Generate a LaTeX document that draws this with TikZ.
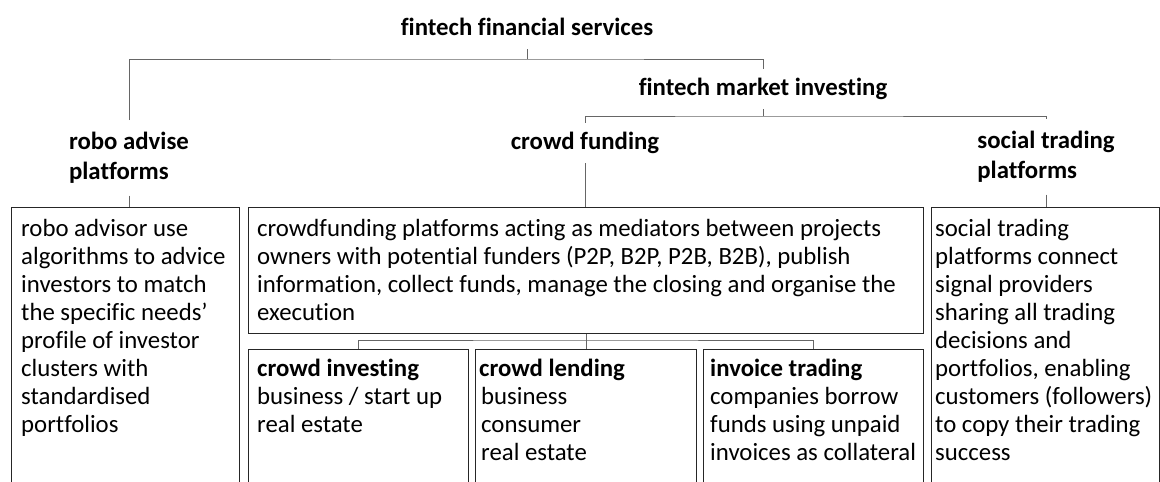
\documentclass[tikz,border=0pt]{standalone}
\usepackage{fontspec}
\setmainfont{Carlito}[Ligatures=NoCommon]
\begin{document}
\begin{tikzpicture}[x=1pt,y=-1pt,
  ttl/.style={font=\bfseries\fontsize{24.8}{29}\selectfont, inner xsep=0pt, inner ysep=9pt, text height=17pt, text depth=5pt, anchor=base},
  ttltwo/.style={font=\bfseries\fontsize{24.8}{30}\selectfont, align=left, inner xsep=0pt, inner ysep=12pt, anchor=north},
  bodytext/.style={font=\fontsize{24.8}{28}\selectfont, align=left, anchor=base west, inner sep=0pt},
  boxnode/.style={draw=black!85, line width=1.2pt, anchor=north west, inner sep=0pt},
  conn/.style={draw=black!60, line width=0.7pt}]
\useasboundingbox (0,0) rectangle (1160,482);
\begin{scope}
\clip (0,0) rectangle (1160,482);
% titles
\node[ttl] (fs) at (527,35) {fintech financial services};
\node[ttl] (mi) at (763,95) {fintech market investing};
\node[ttl] (cf) at (585,149) {crowd funding};
\node[ttltwo] (robo) at (129,120) {robo advise\\platforms};
\node[ttltwo] (soc) at (1046,119) {social trading\\platforms};
% boxes
\node[boxnode, minimum width=228pt, minimum height=300pt] (robobox) at (11,207) {};
\node[boxnode, minimum width=675pt, minimum height=126pt] (cfbox) at (248,207) {};
\node[boxnode, minimum width=228pt, minimum height=300pt] (socbox) at (931,207) {};
\node[boxnode, minimum width=220pt, minimum height=200pt] (cibox) at (248,349) {};
\node[boxnode, minimum width=221pt, minimum height=200pt] (clbox) at (475,349) {};
\node[boxnode, minimum width=220pt, minimum height=200pt] (itbox) at (703,349) {};
% texts (base anchor = baseline of the last line)
\node[bodytext] (robotext) at (21,432) {robo advisor use\\algorithms to advice\\investors to match\\the specific needs’\\profile of investor\\clusters with\\standardised\\portfolios};
\node[bodytext] (cftext) at (257,320) {crowdfunding platforms acting as mediators between projects\\owners with potential funders (P2P, B2P, P2B, B2B), publish\\information, collect funds, manage the closing and organise the\\execution};
\node[bodytext] (soctext) at (935,460) {social trading\\platforms connect\\signal providers\\sharing all trading\\decisions and\\portfolios, enabling\\customers (followers)\\to copy their trading\\success};
\node[bodytext] (citext) at (257,432) {\textbf{crowd investing}\\business / start up\\real estate};
\node[bodytext] (cltext) at (479,460) {\textbf{crowd lending}\\\hspace*{2pt}business\\\hspace*{2pt}consumer\\\hspace*{2pt}real estate};
\node[bodytext] (ittext) at (710,460) {\textbf{invoice trading}\\companies borrow\\funds using unpaid\\invoices as collateral};
% connectors
\coordinate (j1) at (527,59);
\coordinate (j2) at (763,116);
\coordinate (j3) at (585.5,340);
\draw[conn] (fs.south) -- (j1);
\draw[conn] (robo.north) |- (j1) -| (mi.north);
\draw[conn] (mi.south) -- (j2);
\draw[conn] (cf.north) |- (j2) -| (soc.north);
\draw[conn] (robo.south) -- (robo.south |- robobox.north);
\draw[conn] (cf.south) -- (cf.south |- cfbox.north);
\draw[conn] (soc.south) -- (soc.south |- socbox.north);
\draw[conn] (cfbox.south) -- (clbox.north);
\draw[conn] (cibox.north) |- (j3) -| (itbox.north);
\end{scope}
\end{tikzpicture}
\end{document}
